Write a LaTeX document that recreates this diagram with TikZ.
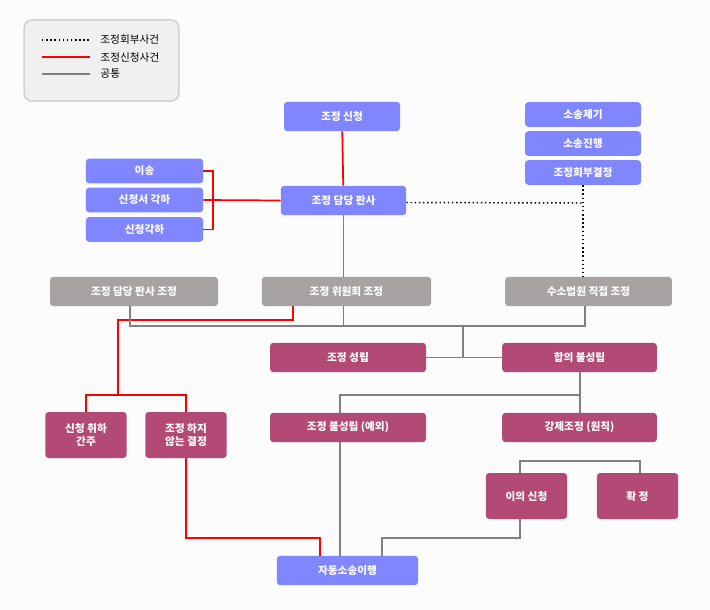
\documentclass[tikz,border=0pt]{standalone}
\usepackage{fontspec}
\setmainfont{Noto Sans CJK KR}
\begin{document}
\begin{tikzpicture}[x=0.75pt,y=-0.75pt]

        % Styles
        \tikzset{box/.style={rounded corners=2.5pt,draw=none,text=white,align=center,
            font=\bfseries\fontsize{8}{10}\selectfont,inner sep=1pt}}
        \tikzset{blue box/.style={box,fill=blue!50!white!95!black}}
        \tikzset{grey box/.style={box,fill=black!35!red!5!white}}
        \tikzset{plum box/.style={box,fill=purple!70!magenta!60!black!90}}
        \tikzset{common line/.style={draw=black!50,line width=1.3pt}}
        \tikzset{request line/.style={draw=red,line width=1.3pt}}
        \tikzset{referral line/.style={draw=black,line width=1.1pt,dotted}}
        \definecolor{bluebox}{HTML}{7F86FF}
        \definecolor{greybox}{HTML}{A7A3A3}
        \definecolor{plumbox}{HTML}{B34A76}
        \tikzset{blue box/.style={box,fill=bluebox},grey box/.style={box,fill=greybox},
            plum box/.style={box,fill=plumbox}}

        %The graphic
        \fill[black!1] (0,0) rectangle (710,610);
        \useasboundingbox (0,0) rectangle (710,610);

        %legend
        \node[draw=black!18,line width=1.2pt,fill=black!6,rounded corners=6pt,
              minimum width=116pt,minimum height=61pt] (legend) at (101.5,60.5) {};
        \coordinate (l1) at (42,40); \coordinate (l1e) at (90,40);
        \coordinate (l2) at (42,57); \coordinate (l2e) at (90,57);
        \coordinate (l3) at (42,74); \coordinate (l3e) at (90,74);
        \draw[referral line,line width=0.9pt] (l1) -- (l1e) node[right=4pt,font=\fontsize{8}{10}\selectfont] {조정회부사건};
        \draw[request line,line width=1pt] (l2) -- (l2e) node[right=4pt,font=\fontsize{8}{10}\selectfont] {조정신청사건};
        \draw[common line,line width=1pt] (l3) -- (l3e) node[right=4pt,font=\fontsize{8}{10}\selectfont] {공통};

        %blue boxes
        \node[blue box,minimum width=87pt,minimum height=22pt] (apply) at (342,116.5) {조정 신청};
        \node[blue box,minimum width=94pt,minimum height=22pt] (judge) at (343.5,200.5) {조정 담당 판사};
        \node[blue box,minimum width=88pt,minimum height=18.5pt] (transfer) at (144.5,171) {이송};
        \node[blue box,minimum width=88pt,minimum height=18.5pt] (dismissdoc) at (144.5,200) {신청서 각하};
        \node[blue box,minimum width=88pt,minimum height=18.5pt] (dismiss) at (144.5,229.5) {신청각하};
        \node[blue box,minimum width=87pt,minimum height=18.5pt] (suit) at (583,114.5) {소송제기};
        \node[blue box,minimum width=87pt,minimum height=18.5pt] (trial) at (583,143.5) {소송진행};
        \node[blue box,minimum width=87pt,minimum height=18.5pt] (refer) at (583,172.5) {조정회부결정};
        \node[blue box,minimum width=106pt,minimum height=22pt] (auto) at (347.5,570.5) {자동소송이행};

        %grey boxes
        \node[grey box,minimum width=126pt,minimum height=22pt] (judgemed) at (134,291.5) {조정 담당 판사 조정};
        \node[grey box,minimum width=127pt,minimum height=22pt] (cmtemed) at (346.5,291.5) {조정 위원회 조정};
        \node[grey box,minimum width=125pt,minimum height=22pt] (courtmed) at (588.5,291.5) {수소법원 직접 조정};

        %plum boxes
        \node[plum box,minimum width=117pt,minimum height=22pt] (settled) at (348,357.5) {조정 성립};
        \node[plum box,minimum width=116pt,minimum height=22pt] (nodeal) at (579.5,357.5) {합의 불성립};
        \node[plum box,minimum width=117pt,minimum height=22pt] (failed) at (348,427.5) {조정 불성립 (예외)};
        \node[plum box,minimum width=116pt,minimum height=22pt] (forced) at (579.5,427.5) {강제조정 (원칙)};
        \node[plum box,minimum width=61pt,minimum height=34.5pt] (withdrawn) at (86,435) {신청 취하\\간주};
        \node[plum box,minimum width=61pt,minimum height=34.5pt] (nomed) at (186,435) {조정 하지\\않는 결정};
        \node[plum box,minimum width=61pt,minimum height=34.5pt] (objection) at (526.5,496) {이의 신청};
        \node[plum box,minimum width=61pt,minimum height=34.5pt] (final) at (637.5,496) {확 정};

        %junctions
        \coordinate (bracket) at (213,200);
        \coordinate (dotcorner) at (583,203);
        \coordinate (commonbar) at (463,326);
        \coordinate (redbar) at (118,320);
        \coordinate (redsplit) at (118,395);
        \coordinate (failbar) at (580,395);
        \coordinate (forcedbar) at (580,461);
        \coordinate (autored) at (320,538);
        \coordinate (autoobj) at (382,538);

        %request lines
        \draw[request line] (apply) -- (judge);
        \draw[request line] (transfer.east) -| (bracket) |- (dismiss.east);
        \draw[request line] (dismissdoc.east) -- (judge.west);
        \draw[request line] (cmtemed.south -| 293,0) |- (redbar) -- (redsplit);
        \draw[request line] (withdrawn.north) |- (redsplit) -| (nomed.north);
        \draw[request line] (nomed.south) |- (autored) -- (auto.north -| autored);

        %referral lines
        \draw[referral line] ([yshift=-1.5pt]judge.east) -- (dotcorner);
        \draw[referral line] (refer.south) -- (courtmed.north -| refer);

        %common lines
        \draw[common line] (judge.south) -- (cmtemed.north -| judge);
        \draw[common line] (judgemed.south -| 130,0) |- (commonbar) -| (courtmed.south -| 585,0);
        \draw[common line] (cmtemed.south -| judge) -- (commonbar -| judge);
        \draw[common line] (commonbar) -- (settled.east -| commonbar);
        \draw[common line] (settled.east) -- (nodeal.west);
        \draw[common line] (nodeal.south -| failbar) -- (forced.north -| failbar);
        \draw[common line] (failbar) -| (failed.north -| 340,0);
        \draw[common line] (failed.south -| 340,0) -- (auto.north -| 340,0);
        \draw[common line] (forcedbar) -| (objection.north -| 520,0);
        \draw[common line] (forcedbar) -| (final.north -| 640,0);
        \draw[common line] (objection.south -| 520,0) |- (autoobj) -- (auto.north -| autoobj);
\end{tikzpicture}
\end{document}
